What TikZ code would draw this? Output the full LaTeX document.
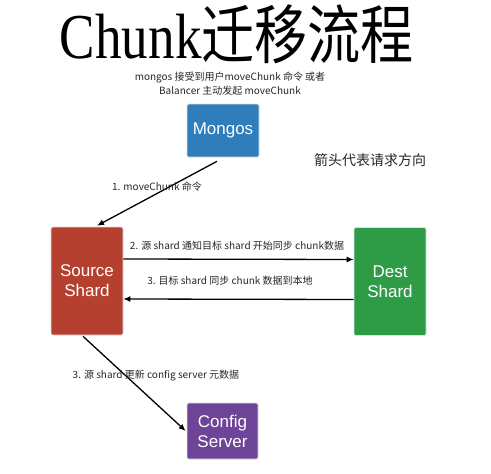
\documentclass[tikz,border=0pt]{standalone}
\usepackage{fontspec}
\setmainfont{Liberation Sans}
\newfontfamily\cjk{Noto Sans CJK SC}
\newfontfamily\titleserif{Liberation Serif}
\usepackage{graphicx}
\usetikzlibrary{arrows.meta}
\definecolor{mongosblue}{RGB}{47,126,187}
\definecolor{sourcered}{RGB}{182,64,48}
\definecolor{destgreen}{RGB}{46,156,70}
\definecolor{configpurple}{RGB}{110,68,152}

\begin{document}
\begin{tikzpicture}[x=1pt,y=-1pt,
	box/.style={rounded corners=1.5pt, text=white, align=center, inner sep=0pt,
		font=\fontsize{17}{20}\selectfont, draw=black!12, line width=0.6pt},
	lbl/.style={font=\cjk\fontsize{10}{14}\selectfont, text=black!85, inner sep=0pt},
	req/.style={line width=1.3pt, -{Latex[length=7pt,width=6pt]}}]
		\useasboundingbox (0,0) rectangle (491,474);
		\node[anchor=base] (title) at (237,58) {\fontsize{64}{64}\selectfont\scalebox{0.83}[1]{\titleserif Chunk\cjk 迁移流程}};
		\node[lbl, align=center] (intro) at (230,84) {mongos 接受到用户moveChunk 命令 或者\\Balancer 主动发起 moveChunk};
		\node[box, fill=mongosblue, minimum width=72pt, minimum height=53pt] (mongos) at (223,130.5) {Mongos};
		\node[lbl, font=\cjk\fontsize{14}{14}\selectfont] (legend) at (370,160) {箭头代表请求方向};
		\node[box, fill=sourcered, minimum width=72pt, minimum height=108pt] (source) at (87,281) {Source\\Shard};
		\node[box, fill=destgreen, minimum width=72pt, minimum height=108pt] (dest) at (390,281.5) {Dest\\Shard};
		\node[box, fill=configpurple, minimum width=71pt, minimum height=56pt] (config) at (222.5,431) {Config\\Server};
		% requests
		\draw[req] ([xshift=-6pt,yshift=-4pt]mongos.south) -- ([xshift=10pt,yshift=1pt]source.north);
		\node[lbl] (step1) at (157,187) {1. moveChunk 命令};
		\draw[req] ([yshift=22pt]source.east) -- ([yshift=22pt]dest.west);
		\node[lbl] (step2) at (237,246) {2. 源 shard 通知目标 shard 开始同步 chunk数据};
		\draw[req] ([yshift=-18pt]dest.west) -- ([yshift=-18pt]source.east);
		\node[lbl] (step3) at (230,281) {3. 目标 shard 同步 chunk 数据到本地};
		\draw[req] ([xshift=-4pt,yshift=-1pt]source.south) -- ([xshift=-1pt]config.west);
		\node[lbl] (step4) at (156,376) {3. 源 shard 更新 config server 元数据};
\end{tikzpicture}
\end{document}
